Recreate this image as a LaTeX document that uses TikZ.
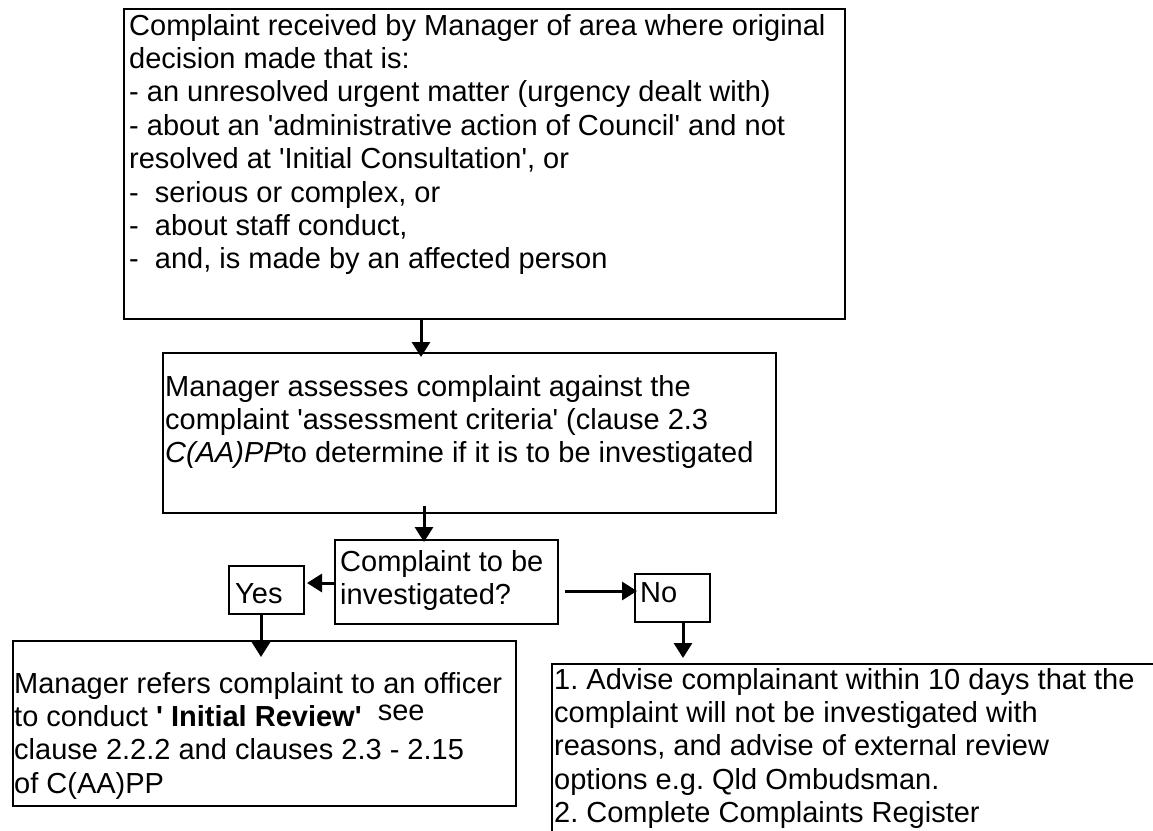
\documentclass[tikz,border=0pt]{standalone}
\usepackage{fontspec}
\setmainfont{Liberation Sans}
\usetikzlibrary{arrows.meta}
\newcommand\q{\textquotesingle}
\frenchspacing
\begin{document}
\begin{tikzpicture}[x=1pt,y=-1pt,
  box/.style={draw,line width=2pt,inner sep=0pt,anchor=north west},
  txt/.style={inner sep=0pt,anchor=north west,align=left,font=\fontsize{29}{33.4}\selectfont},
  arr/.style={line width=3pt,-{Triangle[length=15pt,width=18pt]}}]
\useasboundingbox (0,0) rectangle (1153,830);
\clip (0,0) rectangle (1153,830);
% boxes
\node[box,minimum width=721pt,minimum height=310pt] (top) at (123,8) {};
\node[box,minimum width=613pt,minimum height=160pt] (box2) at (162,352) {};
\node[box,minimum width=223pt,minimum height=84pt] (dec) at (334,539) {};
\node[box,minimum width=75pt,minimum height=48pt] (yes) at (228,565) {};
\node[box,minimum width=75pt,minimum height=48pt] (no) at (634,573) {};
\node[box,minimum width=503pt,minimum height=165pt] (left) at (12,640) {};
\node[box,minimum width=640pt,minimum height=220pt] (right) at (551,663) {};
% texts
\node[txt] (toptext) at (129,11.6) {\strut Complaint received by Manager of area where original\\
decision made that is:\\
- an unresolved urgent matter (urgency dealt with)\\
- about an \q administrative action of Council\q{} and not\\
resolved at \q Initial Consultation\q, or\\
-\ \ serious or complex, or\\
-\ \ about staff conduct,\\
-\ \ and, is made by an affected person};
\node[txt] (box2text) at (165,372.6) {\strut Manager assesses complaint against the\\
complaint \q assessment criteria\q{} (clause 2.3\\
\textit{C(AA)PP}to determine if it is to be investigated};
\node[txt] (dectext) at (340,547.6) {\strut Complaint to be\\investigated?};
\node[txt] (yestext) at (235,579.6) {\strut Yes};
\node[txt] (notext) at (640,578.6) {\strut No};
\node[txt] (lefttext) at (14,669.6) {\strut Manager refers complaint to an officer\\
to conduct \textbf{\q{} Initial Review\q}\ \ \raisebox{6pt}{see}\\
clause 2.2.2 and clauses 2.3 - 2.15\\
of C(AA)PP};
\node[txt] (righttext) at (554,665.6) {\strut 1. Advise complainant within 10 days that the\\
complaint will not be investigated with\\
reasons, and advise of external review\\
options e.g. Qld Ombudsman.\\
2. Complete Complaints Register};
% connector guides
\coordinate (c1) at (421,0);
\coordinate (c2) at (424,0);
\coordinate (c3) at (0,583);
\coordinate (c4) at (0,591);
\coordinate (c5) at (261,0);
\coordinate (c6) at (683,0);
% connectors
\draw[arr,shorten <=-1pt,shorten >=-5pt] (top.south -| c1) -- (box2.north -| c1);
\draw[arr,shorten <=-8pt,shorten >=-3pt] (box2.south -| c2) -- (dec.north -| c2);
\draw[arr,shorten >=2pt] (dec.west |- c3) -- (yes.east |- c3);
\draw[arr,shorten <=6pt,shorten >=-3pt] (dec.east |- c4) -- (no.west |- c4);
\draw[arr,shorten >=-17pt] (yes.south -| c5) -- (left.north -| c5);
\draw[arr,shorten >=5pt] (no.south -| c6) -- (right.north -| c6);
\end{tikzpicture}
\end{document}
